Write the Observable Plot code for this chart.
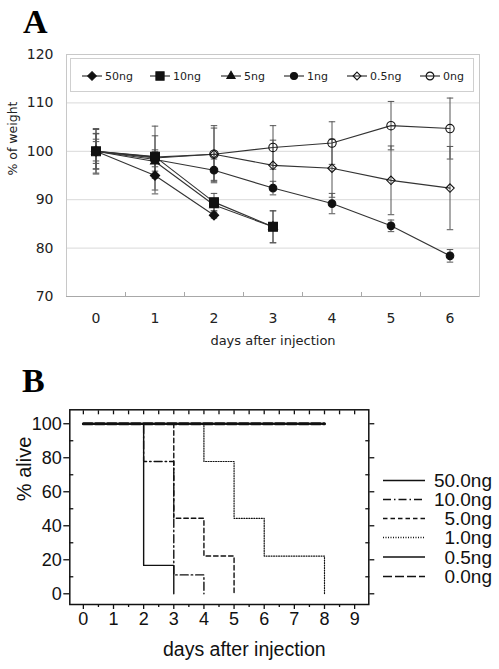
<!DOCTYPE html>
<html><head><meta charset="utf-8">
<script src="https://cdn.jsdelivr.net/npm/d3@7"></script>
<script src="https://cdn.jsdelivr.net/npm/@observablehq/plot@0.6"></script>
<style>
body{margin:0;background:#fff;}
#wrap{position:relative;width:499px;height:669px;overflow:hidden;background:#fff;}
#wrap > svg, #wrap > figure{position:absolute;left:0;margin:0;}
</style></head><body>
<div id="wrap"></div>
<script>
// ---------- Panel A data: % of weight ----------
const daysA = [0, 1, 2, 3, 4, 5, 6];
const halfDaysA = [0.5, 1.5, 2.5, 3.5, 4.5, 5.5];
const yTicksA = [70, 80, 90, 100, 110, 120];
const gridA = [80, 90, 100, 110];
const dosesA = ["50ng", "10ng", "5ng", "1ng", "0.5ng", "0ng"];
const w50 = [100, 95.0, 86.8];
const w10 = [100, 98.9, 89.5, 84.4];
const w5 = [100, 97.9, 88.9, 84.4];
const w1 = [100, 98.3, 96.1, 92.4, 89.2, 84.6, 78.4];
const w05 = [100, 98.8, 99.4, 97.1, 96.5, 94.0, 92.4];
const w0 = [100, 98.6, 99.4, 100.8, 101.7, 105.3, 104.7];
const e50 = [2.0, 3.8, 0.6];
const e10 = [4.5, 1.4, 1.8, 3.3];
const e5 = [2.5, 2.0, 1.2, 3.3];
const e1 = [3.6, 1.5, 2.3, 1.4, 2.1, 1.2, 1.3];
const e05 = [3.7, 4.4, 5.4, 5.2, 6.0, 7.1, 8.6];
const e0 = [4.7, 6.6, 5.9, 4.5, 4.4, 5.0, 6.3];
const titleA = "days after injection";
const ylabelA = "% of weight";

// ---------- Panel B data: % alive (step curves) ----------
const dosesB = ["50.0ng", "10.0ng", "5.0ng", "1.0ng", "0.5ng", "0.0ng"];
const t50 = [0, 2, 3],       s50 = [100, 16.7, 0];
const t10 = [0, 2, 3, 4],    s10 = [100, 77.8, 11.1, 0];
const t5 = [0, 3, 4, 5],     s5 = [100, 44.4, 22.2, 0];
const t1 = [0, 4, 5, 6, 8],  s1 = [100, 77.8, 44.4, 22.2, 0];
const t05 = [0, 8],          s05 = [100, 100];
const t0 = [0, 8],           s0 = [100, 100];
const xTicksB = [0, 1, 2, 3, 4, 5, 6, 7, 8, 9];
const xHalfB = [0.5, 1.5, 2.5, 3.5, 4.5, 5.5, 6.5, 7.5, 8.5];
const yTicksB = [0, 20, 40, 60, 80, 100];
const yMinorB = [10, 30, 50, 70, 90];
const titleB = "days after injection";
const ylabelB = "% alive";

// ---------- build tables ----------
const wA = [w50, w10, w5, w1, w05, w0];
const eA = [e50, e10, e5, e1, e05, e0];
const rowsA = [];
dosesA.forEach((d, i) => wA[i].forEach((w, j) => rowsA.push({dose: d, day: daysA[j], w, e: eA[i][j]})));
const styleA = {
  "50ng": {symbol: "diamond2", r: 4.2, fill: "#111"},
  "10ng": {symbol: "square", r: 5.0, fill: "#111"},
  "5ng": {symbol: "triangle", r: 3.3, fill: "#111"},
  "1ng": {symbol: "circle", r: 3.8, fill: "#111"},
  "0.5ng": {symbol: "diamond2", r: 3.8, fill: "none"},
  "0ng": {symbol: "circle", r: 4.2, fill: "none"}
};
const drawOrderA = ["0ng", "0.5ng", "1ng", "50ng", "5ng", "10ng"];

const tB = [t50, t10, t5, t1, t05, t0];
const sB = [s50, s10, s5, s1, s05, s0];
const rowsB = [];
dosesB.forEach((d, i) => tB[i].forEach((t, j) => rowsB.push({dose: d, day: t, s: sB[i][j]})));
const styleB = {
  "50.0ng": {dash: null, w: 1.4},
  "10.0ng": {dash: "8,3,1.5,3", w: 1.4},
  "5.0ng": {dash: "4.5,3", w: 1.4},
  "1.0ng": {dash: "1,1.5", w: 1.2},
  "0.5ng": {dash: null, w: 2.2},
  "0.0ng": {dash: "9,3", w: 3}
};

const wrap = document.getElementById("wrap");

// ---------- Panel A ----------
const plotA = Plot.plot({
  width: 499, height: 360,
  marginTop: 54, marginBottom: 64, marginLeft: 66, marginRight: 20,
  x: {domain: [-0.5, 6.5]},
  y: {domain: [70, 120]},
  style: {fontFamily: "DejaVu Sans, sans-serif", fontSize: "14px", background: "transparent", color: "#222"},
  marks: [
    Plot.gridY(gridA, {stroke: "#d9d9d9", strokeOpacity: 1}),
    Plot.frame({stroke: "#c8c8c8"}),
    Plot.ruleY([70], {stroke: "#a8a8a8"}),
    Plot.axisX(halfDaysA, {tickSize: 4, dy: -4, tickFormat: () => "", label: null, stroke: "#a8a8a8"}),
    Plot.axisX(daysA, {tickSize: 0, tickPadding: 17, fontSize: 14, label: null}),
    Plot.axisY(yTicksA, {tickSize: 0, tickPadding: 13, fontSize: 14, label: null}),
    Plot.text([titleA], {frameAnchor: "bottom", dy: 48, fontSize: 13, fill: "#222"}),
    Plot.text([ylabelA], {frameAnchor: "left", dx: -54, rotate: -90, fontSize: 12.5, fill: "#222"}),
    Plot.ruleX(rowsA, {x: "day", y1: d => d.w - d.e, y2: d => d.w + d.e, stroke: "#555", strokeWidth: 1}),
    Plot.link(rowsA, {x1: d => d.day - 0.055, x2: d => d.day + 0.055, y1: d => d.w + d.e, y2: d => d.w + d.e, stroke: "#555"}),
    Plot.link(rowsA, {x1: d => d.day - 0.055, x2: d => d.day + 0.055, y1: d => d.w - d.e, y2: d => d.w - d.e, stroke: "#555"}),
    Plot.line(rowsA, {x: "day", y: "w", z: "dose", stroke: "#333", strokeWidth: 1.1}),
    ...drawOrderA.map(d => Plot.dot(rowsA.filter(r => r.dose === d), {
      x: "day", y: "w", symbol: styleA[d].symbol, r: styleA[d].r,
      fill: styleA[d].fill, stroke: "#111", strokeWidth: 1.1
    }))
  ]
});
plotA.style.top = "0px";
wrap.appendChild(plotA);

// ---------- Panel B ----------
const plotB = Plot.plot({
  width: 499, height: 309,
  marginTop: 49.3, marginBottom: 65, marginLeft: 69.3, marginRight: 130.7,
  x: {domain: [-0.45, 9.47]},
  y: {domain: [-6.3, 108.2]},
  style: {fontFamily: "Liberation Sans, Arial, sans-serif", fontSize: "18px", background: "transparent", color: "#111"},
  marks: [
    ...dosesB.map(d => Plot.line(rowsB.filter(r => r.dose === d), {
      x: "day", y: "s", curve: "step-after", stroke: "#111",
      strokeWidth: styleB[d].w, strokeDasharray: styleB[d].dash
    })),
    Plot.frame({stroke: "#111", strokeWidth: 1.5}),
    Plot.axisY(yTicksB, {anchor: "left", tickSize: 6, tickPadding: 2, fontSize: 18, label: null, strokeWidth: 1.3}),
    Plot.axisY(yMinorB, {anchor: "left", tickSize: 4, dx: 4, tickFormat: () => "", label: null, strokeWidth: 1.3}),
    Plot.axisY(yTicksB, {anchor: "right", tickSize: 5, tickFormat: () => "", label: null, strokeWidth: 1.3}),
    Plot.axisY(yMinorB, {anchor: "right", tickSize: 4, dx: -4, tickFormat: () => "", label: null, strokeWidth: 1.3}),
    Plot.axisX([...xTicksB, ...xHalfB], {anchor: "top", tickSize: 4, dy: 4, tickFormat: () => "", label: null, strokeWidth: 1.3}),
    Plot.axisX(xHalfB, {anchor: "bottom", tickSize: 3, tickFormat: () => "", label: null, strokeWidth: 1.3}),
    Plot.axisX(xTicksB, {anchor: "bottom", tickSize: 5, tickPadding: 3, fontSize: 18, label: null, strokeWidth: 1.3}),
    Plot.text([titleB], {frameAnchor: "bottom", dx: 25, dy: 51, fontSize: 19.5, fill: "#111"}),
    Plot.text([ylabelB], {frameAnchor: "left", dx: -45, dy: -6, rotate: -90, fontSize: 20, fill: "#111"})
  ]
});
plotB.style.top = "360px";
wrap.appendChild(plotB);

// ---------- Overlay: panel letters and legends ----------
const ov = d3.select(wrap).append("svg")
  .attr("width", 499).attr("height", 669)
  .style("position", "absolute").style("top", "0px").style("left", "0px");

ov.append("text").attr("x", 23).attr("y", 33).text("A")
  .attr("font-family", "Liberation Serif, serif").attr("font-weight", "bold").attr("font-size", 34);
ov.append("text").attr("x", 22).attr("y", 392).text("B")
  .attr("font-family", "Liberation Serif, serif").attr("font-weight", "bold").attr("font-size", 34);

// Legend A
ov.append("rect").attr("x", 70.5).attr("y", 58.5).attr("width", 403).attr("height", 33)
  .attr("fill", "#fff").attr("stroke", "#cfcfcf");
const legXA = [82, 150, 221, 284, 347, 420];
const symMap = {diamond2: d3.symbolDiamond2, square: d3.symbolSquare, triangle: d3.symbolTriangle, circle: d3.symbolCircle};
dosesA.forEach((d, i) => {
  const x0 = legXA[i], y0 = 76;
  const g = ov.append("g");
  g.append("line").attr("x1", x0).attr("x2", x0 + 20).attr("y1", y0).attr("y2", y0).attr("stroke", "#222").attr("stroke-width", 1.1);
  const st = styleA[d];
  const size = Math.PI * st.r * st.r * 0.85;
  g.append("path").attr("d", d3.symbol(symMap[st.symbol], size)())
    .attr("transform", `translate(${x0 + 10},${y0})`)
    .attr("fill", st.fill).attr("stroke", "#111").attr("stroke-width", 1.1);
  g.append("text").attr("x", x0 + 23).attr("y", y0).attr("dy", "0.35em").text(d)
    .attr("font-family", "DejaVu Sans, sans-serif").attr("font-size", 11).attr("fill", "#222");
});

// Legend B
const legYB = [480.5, 499.5, 518.5, 537.5, 557, 576.5];
dosesB.forEach((d, i) => {
  const y0 = legYB[i];
  const st = styleB[d];
  ov.append("line").attr("x1", 383).attr("x2", 425).attr("y1", y0).attr("y2", y0)
    .attr("stroke", "#111").attr("stroke-width", 1.5)
    .attr("stroke-dasharray", st.dash);
  ov.append("text").attr("x", 492).attr("y", y0).attr("dy", "0.36em").attr("text-anchor", "end").text(d)
    .attr("font-family", "Liberation Sans, Arial, sans-serif").attr("font-size", 19).attr("fill", "#111");
});
</script>
</body></html>
